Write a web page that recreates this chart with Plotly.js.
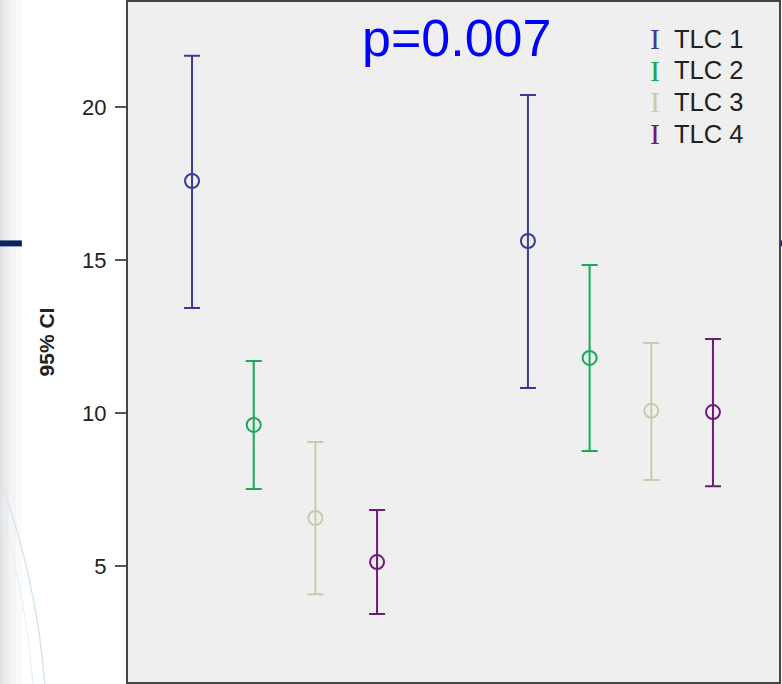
<!DOCTYPE html>
<html>
<head>
<meta charset="utf-8">
<script src="https://cdn.plot.ly/plotly-3.0.1.min.js"></script>
<style>html,body{margin:0;padding:0;background:#fff;}#chart{width:782px;height:684px;}</style>
</head>
<body>
<div id="chart"></div>
<script>
// ---- data ----
const groups = [1, 2];
const seriesNames = ["TLC 1", "TLC 2", "TLC 3", "TLC 4"];
const seriesColors = ["#393b9c", "#15ab57", "#c9cbb0", "#6e1a7a"];
const meanTLC1 = [17.58, 15.62];
const upperTLC1 = [21.67, 20.39];
const lowerTLC1 = [13.43, 10.82];
const meanTLC2 = [9.61, 11.80];
const upperTLC2 = [11.70, 14.84];
const lowerTLC2 = [7.52, 8.76];
const meanTLC3 = [6.57, 10.07];
const upperTLC3 = [9.05, 12.29];
const lowerTLC3 = [4.08, 7.81];
const meanTLC4 = [5.13, 10.03];
const upperTLC4 = [6.83, 12.42];
const lowerTLC4 = [3.43, 7.61];
const yTicks = [5, 10, 15, 20];
const pLabel = "p=0.007";
const yTitle = "95% CI";

const means = [meanTLC1, meanTLC2, meanTLC3, meanTLC4];
const uppers = [upperTLC1, upperTLC2, upperTLC3, upperTLC4];
const lowers = [lowerTLC1, lowerTLC2, lowerTLC3, lowerTLC4];

const offsetStep = 0.1836;
const traces = seriesNames.map((name, i) => ({
  type: "scatter",
  mode: "markers",
  name: name,
  x: groups.map(g => g + (i - 1.5) * offsetStep),
  y: means[i],
  marker: {symbol: "circle-open", size: 14, color: seriesColors[i], line: {width: 2, color: seriesColors[i]}},
  error_y: {
    type: "data", symmetric: false,
    array: means[i].map((m, k) => uppers[i][k] - m),
    arrayminus: means[i].map((m, k) => m - lowers[i][k]),
    color: seriesColors[i], thickness: 2, width: 8
  },
  showlegend: false,
  hoverinfo: "skip"
}));

const annotations = [{
  text: pLabel, xref: "paper", yref: "paper", x: 0.504, y: 0.947,
  xanchor: "center", yanchor: "middle", showarrow: false,
  font: {family: "Liberation Sans, Arial, sans-serif", size: 52, color: "#0000ff"}
}];
seriesNames.forEach((name, i) => {
  const yy = 0.946 - i * 0.0465;
  annotations.push({
    text: "I", xref: "paper", yref: "paper", x: 0.810, y: yy,
    xanchor: "center", yanchor: "middle", showarrow: false,
    font: {family: "Liberation Serif, DejaVu Serif, serif", size: 30, color: seriesColors[i]}
  });
  annotations.push({
    text: name, xref: "paper", yref: "paper", x: 0.835, y: yy,
    xanchor: "left", yanchor: "middle", showarrow: false,
    font: {family: "Liberation Sans, Arial, sans-serif", size: 25.5, color: "#222"}
  });
});

const shapes = [
  {type: "rect", xref: "paper", yref: "paper", layer: "below", x0: -0.197, x1: -0.191, y0: -0.003, y1: 1.003, fillcolor: "#e3e3e4", line: {width: 0}},
  {type: "rect", xref: "paper", yref: "paper", layer: "below", x0: -0.191, x1: -0.183, y0: -0.003, y1: 1.003, fillcolor: "#ececed", line: {width: 0}},
  {type: "rect", xref: "paper", yref: "paper", layer: "below", x0: -0.183, x1: -0.172, y0: -0.003, y1: 1.003, fillcolor: "#f4f4f5", line: {width: 0}},
  {type: "rect", xref: "paper", yref: "paper", layer: "below", x0: -0.172, x1: -0.163, y0: -0.003, y1: 1.003, fillcolor: "#fafafa", line: {width: 0}},
  {type: "path", xref: "paper", yref: "paper", layer: "below",
   path: "M -0.197 0.30 Q -0.14 0.15 -0.128 -0.003", line: {color: "#d6e6f2", width: 1.5}},
  {type: "path", xref: "paper", yref: "paper", layer: "below",
   path: "M -0.197 0.26 Q -0.155 0.12 -0.146 -0.003", line: {color: "#e2edf6", width: 1}},
  {type: "line", xref: "paper", yref: "paper", layer: "below", x0: -0.197, x1: -0.163, y0: 0.645, y1: 0.645, line: {color: "#0c2462", width: 6}},
  {type: "line", xref: "paper", yref: "paper", layer: "below", x0: 1.001, x1: 1.006, y0: 0.645, y1: 0.645, line: {color: "#0c2462", width: 6}}
];

const layout = {
  width: 782, height: 684,
  margin: {l: 128, r: 3, t: 2, b: 2, pad: 0},
  paper_bgcolor: "#ffffff",
  plot_bgcolor: "#efefef",
  font: {family: "Liberation Sans, Arial, sans-serif", color: "#222"},
  showlegend: false,
  xaxis: {
    range: [0.534, 2.472], tickvals: [1.037, 2.025], ticktext: ["", ""],
    ticks: "outside", ticklen: 3, tickcolor: "#444", tickwidth: 2,
    showgrid: false, zeroline: false,
    showline: true, mirror: true, linecolor: "#444", linewidth: 2
  },
  yaxis: {
    range: [1.21, 23.43], tickvals: yTicks, ticktext: yTicks.map(String),
    ticks: "outside", ticklen: 11, tickcolor: "#555", tickwidth: 1.5,
    ticklabelstandoff: 4,
    tickfont: {size: 22, color: "#222"},
    showgrid: false, zeroline: false,
    showline: true, mirror: true, linecolor: "#444", linewidth: 2,
    title: {text: yTitle, standoff: 22, font: {size: 21, color: "#222", weight: "bold"}}
  },
  annotations: annotations,
  shapes: shapes
};

Plotly.newPlot("chart", traces, layout, {staticPlot: true, displayModeBar: false});
</script>
</body>
</html>
